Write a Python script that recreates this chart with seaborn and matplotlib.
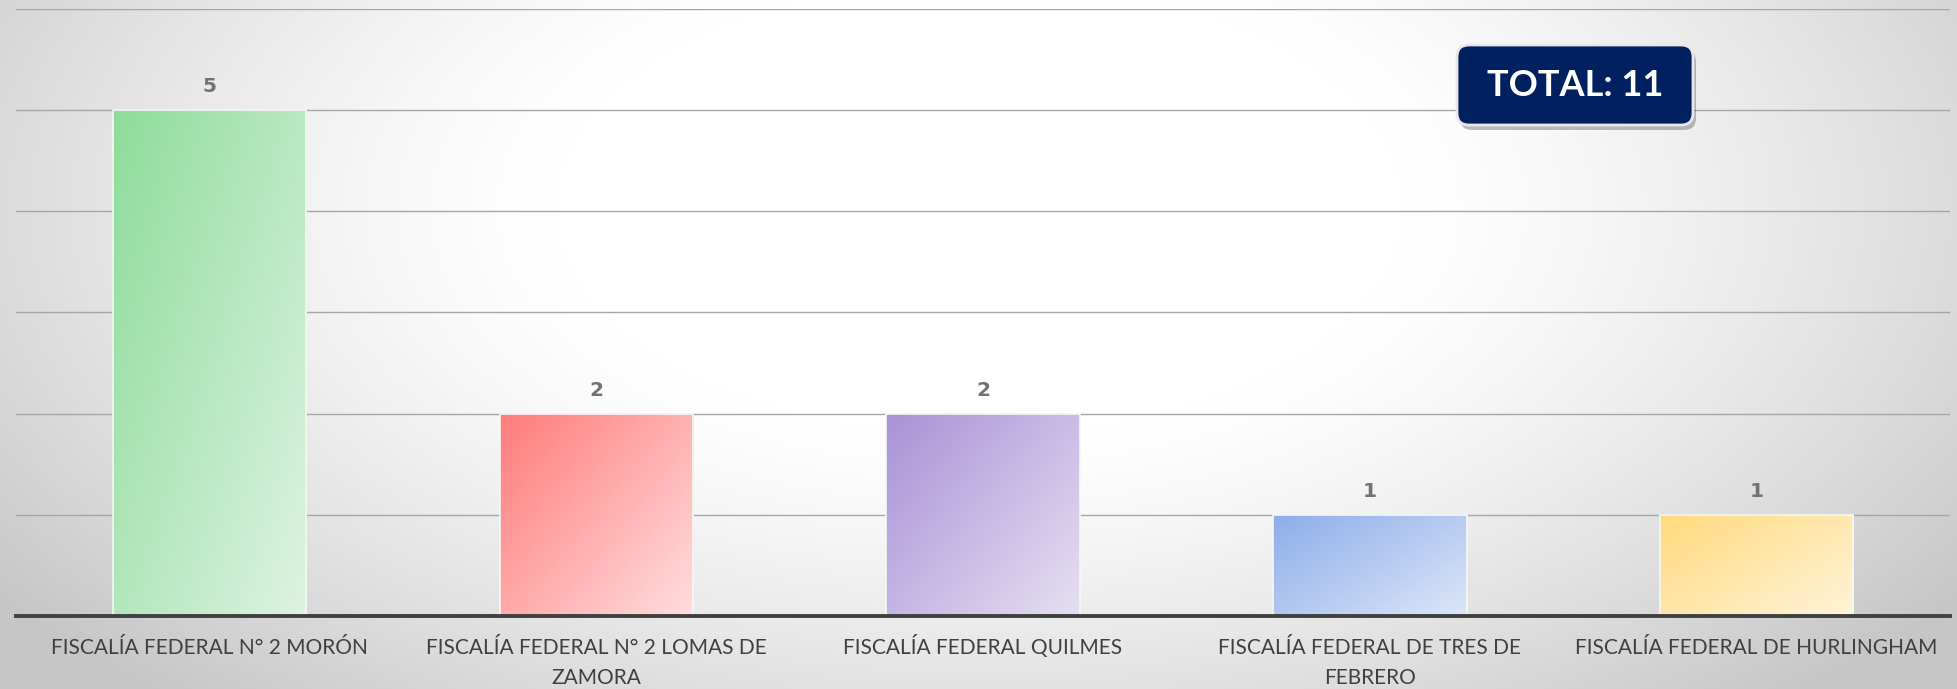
import textwrap
import numpy as np
import matplotlib
matplotlib.use("Agg")
import matplotlib.pyplot as plt
import matplotlib.transforms as mtransforms
from matplotlib.patches import FancyBboxPatch
from matplotlib.colors import to_rgb
import seaborn as sns

# ---------------- data ----------------
categories = [
    "FISCALÍA FEDERAL N° 2 MORÓN",
    "FISCALÍA FEDERAL N° 2 LOMAS DE ZAMORA",
    "FISCALÍA FEDERAL QUILMES",
    "FISCALÍA FEDERAL DE TRES DE FEBRERO",
    "FISCALÍA FEDERAL DE HURLINGHAM",
]
values = [5, 2, 2, 1, 1]
total_label = "TOTAL: 11"
colors_dark = ["#8EDC9B", "#FF7B7B", "#A992D6", "#8DADEA", "#FFDA7C"]
colors_light = ["#DEF3E2", "#FFDEDE", "#E6DFF2", "#DCE6F8", "#FFF3DA"]

sns.set_theme(style="white")
plt.rcParams["font.family"] = ["Lato", "DejaVu Sans"]

W, H, DPI = 1957, 689, 100
fig = plt.figure(figsize=(W / DPI, H / DPI), dpi=DPI)

# ---------- background radial gradient ----------
bg = fig.add_axes([0, 0, 1, 1], zorder=-10)
yy, xx = np.mgrid[0:H:2, 0:W:2]
cx, cy = 0.50 * W, 0.30 * H
r = np.sqrt(((xx - cx) / (0.62 * W)) ** 2 + ((yy - cy) / (0.95 * H)) ** 2)
t = np.clip((r - 0.35) / 0.65, 0, 1) ** 1.3
val = 1.0 - t * (1.0 - 0.78)
img = np.dstack([val, val, val])
bg.imshow(img, extent=(0, 1, 0, 1), origin="upper", aspect="auto")
bg.set_axis_off()

# ---------- main axes ----------
ax = fig.add_axes([16 / W, 1 - 616 / H, (1950 - 16) / W, (616 - 9) / H])
ax.set_facecolor("none")

sns.barplot(x=categories, y=values, hue=categories, palette=colors_dark,
            legend=False, width=0.5, ax=ax, saturation=1, zorder=3)

ax.set_ylim(0, 6)
ax.set_xlim(-0.5, len(categories) - 0.5)
ax.set_yticks(range(1, 7))
ax.yaxis.grid(True, color="#A6A6A6", linewidth=1.0, zorder=0)
ax.set_axisbelow(True)
ax.tick_params(axis="y", left=False, labelleft=False)
ax.tick_params(axis="x", bottom=False, labelbottom=False)
for s in ["left", "right", "top"]:
    ax.spines[s].set_visible(False)
ax.spines["bottom"].set_color("#404040")
ax.spines["bottom"].set_linewidth(2.8)
ax.spines["bottom"].set_zorder(5)
ax.set_xlabel("")
ax.set_ylabel("")

# category labels, wrapped, each line on a common baseline
xtrans = ax.get_xaxis_transform()
for i, cat in enumerate(categories):
    for j, line in enumerate(textwrap.wrap(cat, 30)):
        ax.annotate(line, xy=(i, 0), xycoords=xtrans,
                    xytext=(0, -38 - 30 * j), textcoords="offset pixels",
                    ha="center", va="baseline", fontsize=15,
                    color="#404040", annotation_clip=False)

# gradient fill for bars
n = 120
gy, gx = np.mgrid[0:n, 0:n] / (n - 1)
tt = np.clip((gx * 0.65 + gy * 0.55) / 1.2, 0, 1)[..., None]
for i, p in enumerate(sorted(ax.patches, key=lambda q: q.get_x())):
    c0 = np.array(to_rgb(colors_dark[i]))
    c1 = np.array(to_rgb(colors_light[i]))
    grad = c0 * (1 - tt) + c1 * tt
    x0, w, h = p.get_x(), p.get_width(), p.get_height()
    im = ax.imshow(grad, extent=(x0, x0 + w, 0, h), origin="upper",
                   aspect="auto", zorder=3.5)
    im.set_clip_path(p)
    p.set_edgecolor("#F4F8F4")
    p.set_linewidth(1.2)
    p.set_zorder(4)
    p.set_facecolor("none")
    ax.text(x0 + w / 2, h + 0.14, str(values[i]), ha="center", va="bottom",
            fontsize=14.5, fontweight="bold", color="#767171", zorder=6,
            family=["DejaVu Sans"])

ax.set_xlim(-0.5, len(categories) - 0.5)
ax.set_ylim(0, 6)

# ---------- total box ----------
ident = mtransforms.IdentityTransform()
bx0, bx1, by0, by1 = 1457, 1693, H - 125, H - 45
shadow = FancyBboxPatch((bx0 + 3, by0 - 5), bx1 - bx0, by1 - by0,
                        boxstyle="round,pad=0,rounding_size=12",
                        transform=ident, fc="#000000", ec="none", alpha=0.25,
                        zorder=9)
box = FancyBboxPatch((bx0, by0), bx1 - bx0, by1 - by0,
                     boxstyle="round,pad=0,rounding_size=12",
                     transform=ident, fc="#002060", ec="#E8E8E8", lw=2,
                     zorder=10)
fig.patches.extend([shadow, box])
fig.text((bx0 + bx1) / 2 / W, 1 - 85 / H, total_label, ha="center",
         va="center", color="white", fontsize=26, fontweight="bold",
         zorder=11)

fig.savefig("out.png", dpi=DPI)
